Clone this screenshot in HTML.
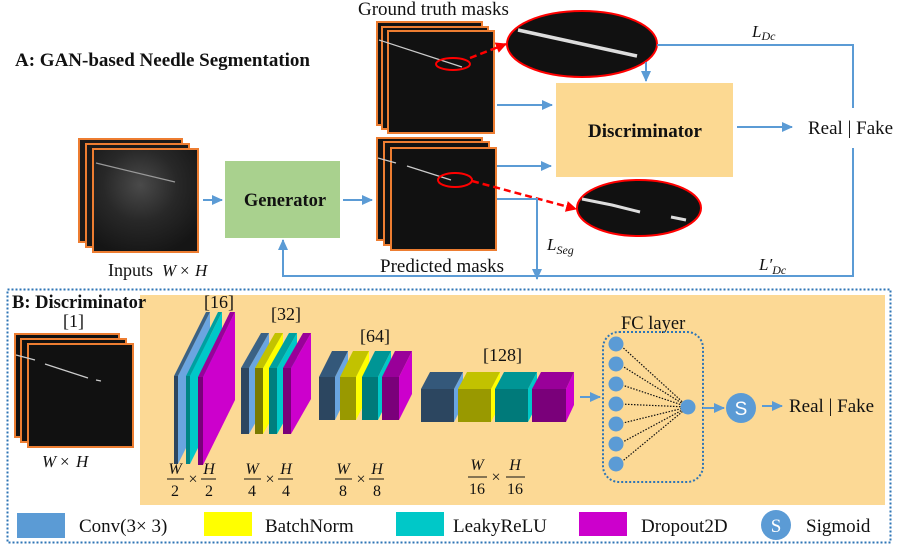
<!DOCTYPE html>
<html><head><meta charset="utf-8"><style>
html,body{margin:0;padding:0;background:#fff;}
svg{display:block;}
text{font-family:"Liberation Serif",serif;fill:#111;}
.b{font-weight:bold;}
.i{font-style:italic;}
</style></head><body>
<svg width="897" height="553" viewBox="0 0 897 553" xmlns="http://www.w3.org/2000/svg">
<defs>
<marker id="ab" markerWidth="11" markerHeight="10" refX="10" refY="5" orient="auto" markerUnits="userSpaceOnUse"><path d="M0,0 L11,5 L0,10 z" fill="#5B9BD5"/></marker>
<marker id="ar" markerWidth="11" markerHeight="11" refX="10" refY="5.5" orient="auto" markerUnits="userSpaceOnUse"><path d="M0,0 L11,5.5 L0,11 z" fill="#F00"/></marker>
<radialGradient id="us" cx="0.45" cy="0.35" r="0.7"><stop offset="0" stop-color="#4a4a4a"/><stop offset="0.5" stop-color="#282828"/><stop offset="1" stop-color="#151515"/></radialGradient>
</defs>

<!-- Part A -->
<text x="15" y="66" font-size="19" class="b">A: GAN-based Needle Segmentation</text>

<rect x="79" y="139" width="103" height="103" fill="#1a1a1a" stroke="#ED7D31" stroke-width="2"/>
<rect x="86" y="144" width="103" height="103" fill="#1a1a1a" stroke="#ED7D31" stroke-width="2"/>
<rect x="93" y="149" width="105" height="103" fill="url(#us)" stroke="#ED7D31" stroke-width="2"/>
<line x1="96" y1="163" x2="175" y2="182" stroke="#999" stroke-width="1.2"/>
<text x="108" y="276" font-size="18">Inputs</text><text x="162" y="276" font-size="17" class="i">W</text><text x="180" y="276" font-size="17">×</text><text x="195" y="276" font-size="17" class="i">H</text>
<line x1="203" y1="200" x2="222" y2="200" stroke="#5B9BD5" stroke-width="2" marker-end="url(#ab)"/>

<rect x="225" y="161" width="115" height="77" fill="#A9D18E"/>
<text x="285" y="206" font-size="18.5" class="b" text-anchor="middle">Generator</text>
<line x1="343" y1="200" x2="372" y2="200" stroke="#5B9BD5" stroke-width="2" marker-end="url(#ab)"/>

<text x="358" y="15" font-size="19">Ground truth masks</text>
<rect x="377" y="22" width="105" height="103" fill="#111" stroke="#ED7D31" stroke-width="2"/>
<rect x="382" y="27" width="106" height="102" fill="#111" stroke="#ED7D31" stroke-width="2"/>
<rect x="388" y="31" width="106" height="102" fill="#111" stroke="#ED7D31" stroke-width="2"/>
<line x1="379" y1="40" x2="462" y2="67" stroke="#ccc" stroke-width="1.2"/>
<ellipse cx="453" cy="64" rx="17" ry="6" fill="none" stroke="#F00" stroke-width="2"/>
<line x1="470" y1="58" x2="506" y2="44" stroke="#F00" stroke-width="2.5" stroke-dasharray="7,4" marker-end="url(#ar)"/>
<ellipse cx="582" cy="44" rx="75" ry="33" fill="#111" stroke="#F00" stroke-width="2"/>
<line x1="518" y1="30" x2="637" y2="56" stroke="#ddd" stroke-width="3.5"/>

<rect x="377" y="138" width="105" height="102" fill="#111" stroke="#ED7D31" stroke-width="2"/>
<rect x="384" y="142" width="105" height="103" fill="#111" stroke="#ED7D31" stroke-width="2"/>
<rect x="391" y="148" width="105" height="102" fill="#111" stroke="#ED7D31" stroke-width="2"/>
<line x1="378" y1="158" x2="396" y2="163" stroke="#ccc" stroke-width="1.2"/>
<line x1="407" y1="166" x2="451" y2="180" stroke="#ccc" stroke-width="1.2"/>
<ellipse cx="455" cy="180" rx="17" ry="7" fill="none" stroke="#F00" stroke-width="2"/>
<line x1="472" y1="181" x2="576" y2="209" stroke="#F00" stroke-width="2.5" stroke-dasharray="7,4" marker-end="url(#ar)"/>
<ellipse cx="639" cy="208" rx="62" ry="28" fill="#111" stroke="#F00" stroke-width="2"/>
<path d="M582,199 L612,205 L640,212" fill="none" stroke="#ddd" stroke-width="3"/>
<line x1="671" y1="217" x2="686" y2="220" stroke="#ddd" stroke-width="3"/>
<text x="380" y="272" font-size="19">Predicted masks</text>

<line x1="497" y1="105" x2="552" y2="105" stroke="#5B9BD5" stroke-width="2" marker-end="url(#ab)"/>
<line x1="497" y1="166" x2="551" y2="166" stroke="#5B9BD5" stroke-width="2" marker-end="url(#ab)"/>
<line x1="646" y1="62" x2="646" y2="81" stroke="#5B9BD5" stroke-width="2" marker-end="url(#ab)"/>
<rect x="556" y="83" width="177" height="94" fill="#FCD992"/>
<text x="645" y="137" font-size="19" class="b" text-anchor="middle">Discriminator</text>
<line x1="737" y1="127" x2="792" y2="127" stroke="#5B9BD5" stroke-width="2" marker-end="url(#ab)"/>
<text x="808" y="134" font-size="19">Real | Fake</text>
<polyline points="657,45 853,45 853,108" fill="none" stroke="#5B9BD5" stroke-width="2"/>
<polyline points="853,148 853,276 283,276 283,240" fill="none" stroke="#5B9BD5" stroke-width="2" marker-end="url(#ab)"/>
<polyline points="497,199 537,199 537,279" fill="none" stroke="#5B9BD5" stroke-width="2" marker-end="url(#ab)"/>
<text x="752" y="37" font-size="17" class="i">L<tspan font-size="12" dy="3">Dc</tspan></text>
<text x="547" y="250" font-size="17" class="i">L<tspan font-size="12" dy="4">Seg</tspan></text>
<text x="759" y="270" font-size="17" class="i">L′<tspan font-size="12" dy="4">Dc</tspan></text>

<!-- Part B -->
<rect x="140" y="295" width="745" height="210" fill="#FCD995"/>
<rect x="7.5" y="289.5" width="883" height="253" fill="none" stroke="#2E75B6" stroke-width="2" stroke-dasharray="2,2"/>
<text x="12" y="308" font-size="18.5" class="b">B: Discriminator</text>
<text x="63" y="327" font-size="18">[1]</text>
<rect x="15" y="334" width="104" height="103" fill="#111" stroke="#ED7D31" stroke-width="2"/>
<rect x="21" y="339" width="105" height="103" fill="#111" stroke="#ED7D31" stroke-width="2"/>
<rect x="28" y="344" width="105" height="103" fill="#111" stroke="#ED7D31" stroke-width="2"/>
<line x1="16" y1="355" x2="35" y2="360" stroke="#ccc" stroke-width="1.2"/>
<line x1="45" y1="364" x2="88" y2="378" stroke="#ccc" stroke-width="1.2"/>
<line x1="96" y1="380" x2="101" y2="381" stroke="#ccc" stroke-width="1.2"/>
<text x="42" y="467" font-size="17" class="i">W</text><text x="60" y="467" font-size="17">×</text><text x="76" y="467" font-size="17" class="i">H</text>

<text x="204" y="308" font-size="18">[16]</text>
<g>
<polygon points="178,376 210,312 210,400 178,464" fill="#6AA5E0"/>
<polygon points="174,376 206,312 210,312 178,376" fill="#3B6285"/>
<rect x="174" y="376" width="4" height="88" fill="#2C4660"/>
<polygon points="190,376 222,312 222,400 190,464" fill="#00C8C8"/>
<polygon points="186,376 218,312 222,312 190,376" fill="#00A0A0"/>
<rect x="186" y="376" width="4" height="88" fill="#008585"/>
<polygon points="203,377 235,312 235,400 203,465" fill="#CC00CC"/>
<polygon points="198,377 230,312 235,312 203,377" fill="#990099"/>
<rect x="198" y="377" width="5" height="88" fill="#7A007A"/>
</g>

<text x="271" y="320" font-size="18">[32]</text>
<g>
<polygon points="249,368 269,333 269,399 249,434" fill="#6AA5E0"/>
<polygon points="241,368 261,333 269,333 249,368" fill="#3B6285"/>
<rect x="241" y="368" width="8" height="66" fill="#2C4660"/>
<polygon points="263,368 283,333 283,399 263,434" fill="#FFFF00"/>
<polygon points="255,368 275,333 283,333 263,368" fill="#C2C200"/>
<rect x="255" y="368" width="8" height="66" fill="#7A7A00"/>
<polygon points="277,368 297,333 297,399 277,434" fill="#00C8C8"/>
<polygon points="269,368 289,333 297,333 277,368" fill="#00A0A0"/>
<rect x="269" y="368" width="8" height="66" fill="#007E7E"/>
<polygon points="291,368 311,333 311,399 291,434" fill="#CC00CC"/>
<polygon points="283,368 303,333 311,333 291,368" fill="#990099"/>
<rect x="283" y="368" width="8" height="66" fill="#7A007A"/>
</g>

<text x="360" y="342" font-size="18">[64]</text>
<g>
<polygon points="335,377 348,351 348,394 335,420" fill="#6AA5E0"/>
<polygon points="319,377 332,351 348,351 335,377" fill="#34587A"/>
<rect x="319" y="377" width="16" height="43" fill="#2C4660"/>
<polygon points="356,377 369,351 369,394 356,420" fill="#FFFF00"/>
<polygon points="340,377 353,351 369,351 356,377" fill="#C2C200"/>
<rect x="340" y="377" width="16" height="43" fill="#999900"/>
<polygon points="378,377 391,351 391,394 378,420" fill="#00C8C8"/>
<polygon points="362,377 375,351 391,351 378,377" fill="#009595"/>
<rect x="362" y="377" width="16" height="43" fill="#007A7A"/>
<polygon points="399,377 412,351 412,394 399,420" fill="#CC00CC"/>
<polygon points="382,377 395,351 412,351 399,377" fill="#990099"/>
<rect x="382" y="377" width="17" height="43" fill="#7A007A"/>
</g>

<text x="483" y="361" font-size="18">[128]</text>
<g>
<polygon points="454,389 463,372 463,405 454,422" fill="#6AA5E0"/>
<polygon points="421,389 430,372 463,372 454,389" fill="#34587A"/>
<rect x="421" y="389" width="33" height="33" fill="#2C4660"/>
<polygon points="491,389 500,372 500,405 491,422" fill="#FFFF00"/>
<polygon points="458,389 467,372 500,372 491,389" fill="#C2C200"/>
<rect x="458" y="389" width="33" height="33" fill="#999900"/>
<polygon points="528,389 537,372 537,405 528,422" fill="#00C8C8"/>
<polygon points="495,389 504,372 537,372 528,389" fill="#009595"/>
<rect x="495" y="389" width="33" height="33" fill="#007A7A"/>
<polygon points="566,389 574,372 574,405 566,422" fill="#CC00CC"/>
<polygon points="532,389 541,372 574,372 566,389" fill="#990099"/>
<rect x="532" y="389" width="34" height="33" fill="#7A007A"/>
</g>

<g font-size="16" text-anchor="middle">
<text x="175" y="474" class="i">W</text><line x1="167" y1="479" x2="184" y2="479" stroke="#111"/><text x="175" y="496">2</text>
<text x="193" y="484">×</text>
<text x="209" y="474" class="i">H</text><line x1="201" y1="479" x2="216" y2="479" stroke="#111"/><text x="209" y="496">2</text>
<text x="252" y="474" class="i">W</text><line x1="244" y1="479" x2="261" y2="479" stroke="#111"/><text x="252" y="496">4</text>
<text x="270" y="484">×</text>
<text x="286" y="474" class="i">H</text><line x1="278" y1="479" x2="293" y2="479" stroke="#111"/><text x="286" y="496">4</text>
<text x="343" y="474" class="i">W</text><line x1="335" y1="479" x2="352" y2="479" stroke="#111"/><text x="343" y="496">8</text>
<text x="361" y="484">×</text>
<text x="377" y="474" class="i">H</text><line x1="369" y1="479" x2="384" y2="479" stroke="#111"/><text x="377" y="496">8</text>
<text x="477" y="470" class="i">W</text><line x1="468" y1="477" x2="487" y2="477" stroke="#111"/><text x="477" y="494">16</text>
<text x="496" y="482">×</text>
<text x="515" y="470" class="i">H</text><line x1="506" y1="477" x2="525" y2="477" stroke="#111"/><text x="515" y="494">16</text>
</g>

<line x1="580" y1="397" x2="600" y2="397" stroke="#5B9BD5" stroke-width="2" marker-end="url(#ab)"/>
<text x="621" y="329" font-size="18.5">FC layer</text>
<rect x="603" y="332" width="100" height="150" rx="16" fill="none" stroke="#2E75B6" stroke-width="2" stroke-dasharray="2,2"/>
<g stroke="#111" stroke-width="1.2" stroke-dasharray="1.5,1.5">
<line x1="619" y1="344" x2="688" y2="407"/><line x1="619" y1="364" x2="688" y2="407"/><line x1="619" y1="384" x2="688" y2="407"/><line x1="619" y1="404" x2="688" y2="407"/><line x1="619" y1="424" x2="688" y2="407"/><line x1="619" y1="444" x2="688" y2="407"/><line x1="619" y1="464" x2="688" y2="407"/>
</g>
<g fill="#5B9BD5">
<circle cx="616" cy="344" r="7.5"/><circle cx="616" cy="364" r="7.5"/><circle cx="616" cy="384" r="7.5"/><circle cx="616" cy="404" r="7.5"/><circle cx="616" cy="424" r="7.5"/><circle cx="616" cy="444" r="7.5"/><circle cx="616" cy="464" r="7.5"/>
<circle cx="688" cy="407" r="7.5"/>
</g>
<line x1="703" y1="408" x2="724" y2="408" stroke="#5B9BD5" stroke-width="2" marker-end="url(#ab)"/>
<circle cx="741" cy="408" r="15" fill="#5B9BD5"/>
<text x="741" y="415" font-size="19" text-anchor="middle" style="fill:#fff;font-family:'Liberation Sans',sans-serif">S</text>
<line x1="762" y1="406" x2="782" y2="406" stroke="#5B9BD5" stroke-width="2" marker-end="url(#ab)"/>
<text x="789" y="412" font-size="19">Real | Fake</text>

<rect x="17" y="513" width="48" height="25" fill="#5B9BD5"/>
<text x="79" y="532" font-size="19">Conv(3× 3)</text>
<rect x="204" y="512" width="48" height="24" fill="#FFFF00"/>
<text x="265" y="532" font-size="19">BatchNorm</text>
<rect x="396" y="512" width="48" height="24" fill="#00C8C8"/>
<text x="453" y="532" font-size="19">LeakyReLU</text>
<rect x="579" y="512" width="48" height="24" fill="#CC00CC"/>
<text x="641" y="532" font-size="19">Dropout2D</text>
<circle cx="776" cy="525" r="15" fill="#5B9BD5"/>
<text x="776" y="532" font-size="19" text-anchor="middle" style="fill:#fff">S</text>
<text x="806" y="532" font-size="19">Sigmoid</text>
</svg>
</body></html>
